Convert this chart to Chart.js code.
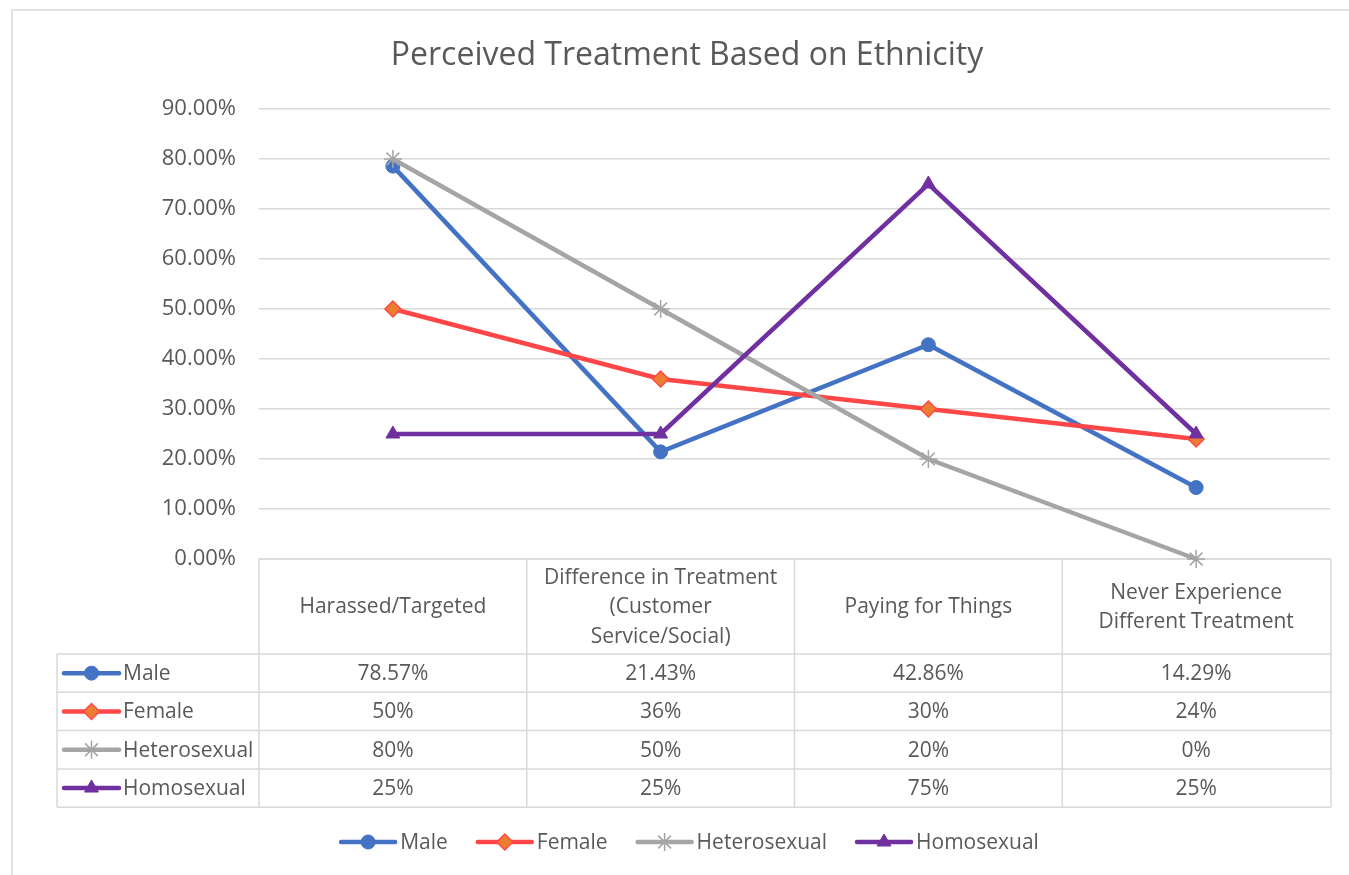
<!DOCTYPE html>
<html>
<head>
<meta charset="utf-8">
<script src="https://cdn.jsdelivr.net/npm/chart.js@4.4.1/dist/chart.umd.min.js"></script>
<style>
  html, body { margin: 0; padding: 0; background: #ffffff; }
  canvas { display: block; }
</style>
</head>
<body>
<canvas id="chart" width="1349" height="875"></canvas>
<script>
// ---- data ----
const chartTitle = 'Perceived Treatment Based on Ethnicity';
const categories = [
  ['Harassed/Targeted'],
  ['Difference in Treatment', '(Customer', 'Service/Social)'],
  ['Paying for Things'],
  ['Never Experience', 'Different Treatment']
];
const seriesNames = ['Male', 'Female', 'Heterosexual', 'Homosexual'];
const maleValues = [78.57, 21.43, 42.86, 14.29];
const femaleValues = [50, 36, 30, 24];
const heteroValues = [80, 50, 20, 0];
const homoValues = [25, 25, 75, 25];
const seriesDecimals = [2, 0, 0, 0];
const yMin = 0, yMax = 90, yStep = 10;

// ---- styling ----
const FONT = '"Open Sans", "Noto Sans", sans-serif';
const TEXT = '#595959';
const GRID = '#d9d9d9';
const styles = [
  { line: '#4472C4', fill: '#4472C4', point: 'circle',   radius: 7, bw: 1 },
  { line: '#FF4747', fill: '#ED7D31', point: 'rectRot',  radius: 8, bw: 1.5 },
  { line: '#A5A5A5', fill: '#A5A5A5', point: 'star',     radius: 9, bw: 1.5 },
  { line: '#7030A0', fill: '#7030A0', point: 'triangle', radius: 8, bw: 1 }
];
const allValues = [maleValues, femaleValues, heteroValues, homoValues];

const datasets = seriesNames.map((name, i) => ({
  label: name,
  data: allValues[i],
  borderColor: styles[i].line,
  backgroundColor: styles[i].fill,
  borderWidth: 4.5,
  pointStyle: styles[i].point,
  pointRadius: styles[i].radius,
  pointBorderColor: styles[i].line,
  pointBackgroundColor: styles[i].fill,
  pointBorderWidth: styles[i].bw,
  tension: 0,
  clip: false,
  order: seriesNames.length - 1 - i
}));

function fmt(v, d) { return v.toFixed(d) + '%'; }

function marker(ctx, i, x, y) {
  const s = styles[i];
  ctx.save();
  ctx.fillStyle = s.fill;
  ctx.strokeStyle = s.line;
  ctx.lineWidth = s.bw;
  Chart.helpers.drawPoint(ctx, { pointStyle: s.point, radius: s.radius, borderWidth: s.bw, rotation: 0 }, x, y);
  ctx.restore();
}

function legendKey(ctx, i, x0, x1, y) {
  ctx.save();
  ctx.strokeStyle = styles[i].line;
  ctx.lineWidth = 4.5;
  ctx.lineCap = 'round';
  ctx.beginPath();
  ctx.moveTo(x0, y);
  ctx.lineTo(x1, y);
  ctx.stroke();
  ctx.restore();
  marker(ctx, i, (x0 + x1) / 2, y);
}

// frame, title, data table and legend drawn around the plot
const decorations = {
  id: 'decorations',
  beforeDraw(chart) {
    const ctx = chart.ctx;
    ctx.save();
    ctx.fillStyle = '#ffffff';
    ctx.fillRect(0, 0, chart.width, chart.height);
    ctx.strokeStyle = GRID;
    ctx.lineWidth = 1.5;
    ctx.beginPath();
    ctx.moveTo(12, chart.height + 5);
    ctx.lineTo(12, 10);
    ctx.lineTo(chart.width + 5, 10);
    ctx.stroke();
    ctx.restore();
  },
  beforeDatasetsDraw(chart) {
    const ctx = chart.ctx;
    const area = chart.chartArea;
    const xs = chart.scales.x;
    const n = categories.length;
    const colW = (area.right - area.left) / n;
    const tableLeft = 57;
    const right = area.right + 1;
    const headTop = area.bottom;
    const headBottom = 654;
    const rowH = 38.3;
    const rows = seriesNames.map((_, r) => headBottom + r * rowH);
    const tableBottom = headBottom + seriesNames.length * rowH;

    ctx.save();
    ctx.strokeStyle = GRID;
    ctx.lineWidth = 1.5;
    ctx.beginPath();
    ctx.moveTo(area.left, headTop); ctx.lineTo(right, headTop);
    rows.concat([tableBottom]).forEach(y => { ctx.moveTo(tableLeft, y); ctx.lineTo(right, y); });
    ctx.moveTo(tableLeft, headBottom); ctx.lineTo(tableLeft, tableBottom);
    for (let c = 0; c <= n; c++) {
      const x = c === n ? right : area.left + c * colW;
      ctx.moveTo(x, headTop); ctx.lineTo(x, tableBottom);
    }
    ctx.stroke();

    ctx.fillStyle = TEXT;
    ctx.textAlign = 'center';
    ctx.textBaseline = 'middle';
    ctx.font = '21px ' + FONT;
    const lh = 29.5;
    categories.forEach((lines, c) => {
      const cx = xs.getPixelForValue(c);
      const cy = (headTop + headBottom) / 2 + 1;
      lines.forEach((t, k) => {
        ctx.fillText(t, cx, cy + (k - (lines.length - 1) / 2) * lh);
      });
    });

    seriesNames.forEach((name, r) => {
      const cy = rows[r] + rowH / 2 + 1;
      allValues[r].forEach((v, c) => {
        ctx.fillStyle = TEXT;
        ctx.textAlign = 'center';
        ctx.fillText(fmt(v, seriesDecimals[r]), xs.getPixelForValue(c), cy);
      });
      legendKey(ctx, r, 64, 119, cy - 1);
      ctx.fillStyle = TEXT;
      ctx.textAlign = 'left';
      ctx.fillText(name, 123, cy);
    });
    ctx.restore();
  },
  afterDraw(chart) {
    const ctx = chart.ctx;
    ctx.save();
    ctx.fillStyle = TEXT;
    ctx.textAlign = 'center';
    ctx.textBaseline = 'middle';
    ctx.font = '32px ' + FONT;
    ctx.fillText(chartTitle, 687, 56);

    // legend row
    ctx.font = '21px ' + FONT;
    const keyW = 54, gapKey = 5, gapItem = 30;
    const widths = seriesNames.map(s => keyW + gapKey + ctx.measureText(s).width);
    const total = widths.reduce((a, b) => a + b, 0) + gapItem * (seriesNames.length - 1);
    let x = 690 - total / 2;
    const y = 842;
    seriesNames.forEach((s, i) => {
      legendKey(ctx, i, x, x + keyW, y);
      ctx.fillStyle = TEXT;
      ctx.textAlign = 'left';
      ctx.fillText(s, x + keyW + gapKey, y + 1);
      x += widths[i] + gapItem;
    });
    ctx.restore();
  }
};

new Chart(document.getElementById('chart'), {
  type: 'line',
  data: { labels: categories, datasets },
  options: {
    responsive: false,
    animation: false,
    devicePixelRatio: 1,
    layout: { padding: { top: 109, bottom: 316, left: 0, right: 19 } },
    plugins: { legend: { display: false }, title: { display: false }, tooltip: { enabled: false } },
    scales: {
      x: { type: 'category', offset: true, display: false },
      y: {
        min: yMin, max: yMax,
        afterFit(scale) { scale.width = 259; },
        border: { display: false },
        grid: { color: GRID, lineWidth: 1.5, drawTicks: false },
        ticks: {
          stepSize: yStep,
          padding: 23,
          color: TEXT,
          font: { family: FONT, size: 22 },
          callback: v => fmt(v, 2)
        }
      }
    }
  },
  plugins: [decorations]
});
</script>
</body>
</html>
